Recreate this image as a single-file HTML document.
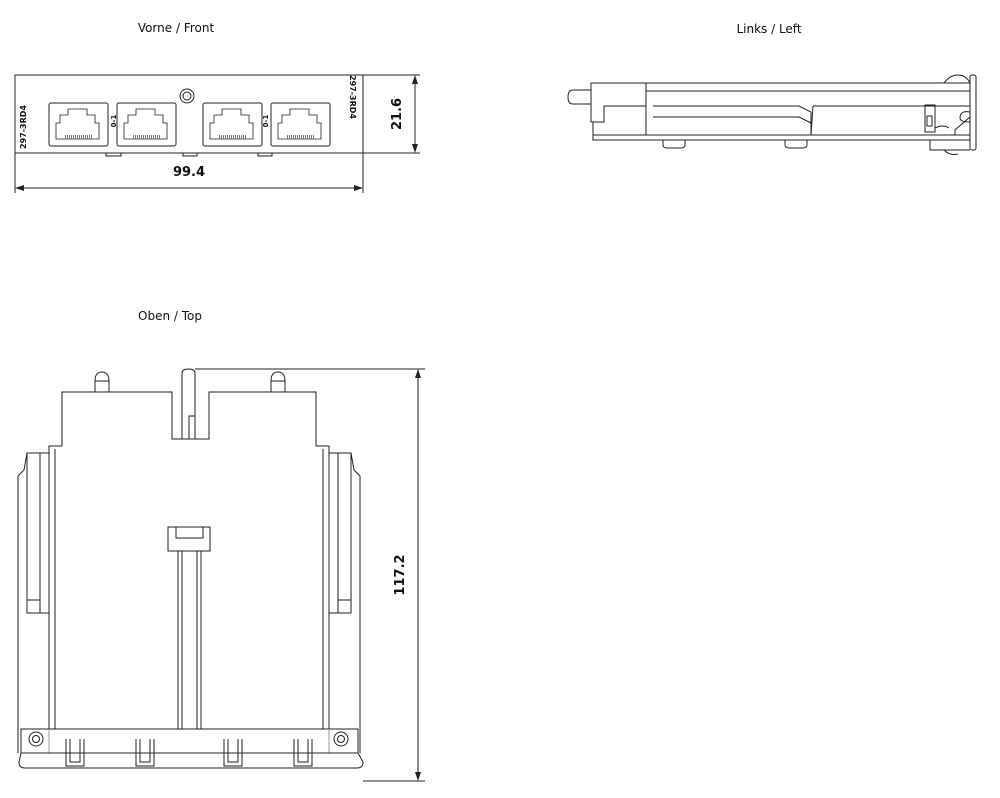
<!DOCTYPE html>
<html><head><meta charset="utf-8"><style>
html,body{margin:0;padding:0;background:#fff;}
svg{display:block;}
text{font-family:"DejaVu Sans","Liberation Sans",sans-serif;fill:#111;}
</style></head><body>
<svg width="1000" height="798" viewBox="0 0 1000 798" xmlns="http://www.w3.org/2000/svg">
<g font-size="12" text-anchor="middle">
<text x="176" y="32">Vorne / Front</text>
<text x="769" y="33">Links / Left</text>
<text x="170" y="320">Oben / Top</text>
</g>

<!-- FRONT VIEW -->
<g fill="none" stroke="#222" stroke-width="1">
<rect x="15" y="75" width="348" height="78"/>
<g fill="#fff">
<rect x="49" y="103" width="59" height="43" rx="2"/>
<rect x="117" y="103" width="59" height="43" rx="2"/>
<rect x="203" y="103" width="59" height="43" rx="2"/>
<rect x="271" y="103" width="59" height="43" rx="2"/>
</g>
<g stroke-width="0.8">
<path d="M56 139 V123 h4 v-8 h8 v-6 h19 v6 h8 v8 h4 v16 Z"/>
<path d="M124 139 V123 h4 v-8 h8 v-6 h19 v6 h8 v8 h4 v16 Z"/>
<path d="M210 139 V123 h4 v-8 h8 v-6 h19 v6 h8 v8 h4 v16 Z"/>
<path d="M278 139 V123 h4 v-8 h8 v-6 h19 v6 h8 v8 h4 v16 Z"/>
</g>
<g stroke="#777" stroke-width="4" stroke-dasharray="1 1">
<line x1="65" y1="137" x2="92" y2="137"/>
<line x1="133" y1="137" x2="160" y2="137"/>
<line x1="219" y1="137" x2="246" y2="137"/>
<line x1="287" y1="137" x2="314" y2="137"/>
</g>
<circle cx="187" cy="96" r="7"/>
<circle cx="187" cy="96" r="4"/>
<rect x="106" y="153" width="15" height="3"/>
<rect x="183" y="153" width="14" height="3"/>
<rect x="258" y="153" width="14" height="3"/>
<!-- dims -->
<line x1="15" y1="153" x2="15" y2="193"/>
<line x1="363" y1="153" x2="363" y2="193"/>
<line x1="17" y1="188" x2="361" y2="188"/>
<line x1="363" y1="75" x2="420" y2="75"/>
<line x1="363" y1="153" x2="420" y2="153"/>
<line x1="415" y1="77" x2="415" y2="151"/>
</g>
<g fill="#222">
<path d="M15 188 l9 -3 v6 Z"/><path d="M363 188 l-9 -3 v6 Z"/>
<path d="M415 75 l-3 9 h6 Z"/><path d="M415 153 l-3 -9 h6 Z"/>
</g>
<text x="189" y="176" font-size="13" font-weight="bold" text-anchor="middle">99.4</text>
<text transform="translate(401,114) rotate(-90)" font-size="13" font-weight="bold" text-anchor="middle">21.6</text>
<text transform="translate(26,127) rotate(-90)" font-size="8" font-weight="bold" text-anchor="middle">297-3RD4</text>
<text transform="translate(350,97) rotate(90)" font-size="8" font-weight="bold" text-anchor="middle">297-3RD4</text>
<text transform="translate(116,121) rotate(-90)" font-size="7" font-weight="bold" text-anchor="middle">0-1</text>
<text transform="translate(268,121) rotate(-90)" font-size="7" font-weight="bold" text-anchor="middle">0-1</text>

<!-- LEFT VIEW -->
<g fill="none" stroke="#222" stroke-width="1">
<path d="M591 90 h-18 q-5 0 -5 7 q0 7 5 7 h18"/>
<path d="M591 83 H970 V140 H593 V122 H591 Z"/>
<line x1="593" y1="135" x2="970" y2="135"/>
<path d="M591 83 V122 h13 V106 h42 V83"/>
<line x1="646" y1="91" x2="970" y2="91"/>
<path d="M646 106 V135"/>
<path d="M653 106 H799 l12 6 V135"/>
<path d="M653 117 H799 l12 6"/>
<path d="M813 106 H970"/>
<path d="M813 106 L811 135"/>
<path d="M663 140 v5 q0 3 4 3 h14 q4 0 4 -3 v-5"/>
<path d="M785 140 v5 q0 3 4 3 h14 q4 0 4 -3 v-5"/>
<rect x="970" y="75" width="6" height="75" rx="2"/>
<path d="M944 83 q6 -8 14 -8 q8 0 12 8"/>
<path d="M930 140 v10 h40"/>
<path d="M944 150 q6 6 14 4"/>
<path d="M925 105 h10 v27 h-10 Z"/>
<rect x="927" y="116" width="5" height="10"/>
<path d="M935 105 V128 q8 -4 14 0"/>
<path d="M970 112 q-10 -2 -10 6 q0 4 10 4"/>
<path d="M970 117 L955 130 V135"/>
</g>

<!-- TOP VIEW -->
<g fill="none" stroke="#222" stroke-width="1">
<!-- pins -->
<path d="M95 392 V381 q0 -9 7 -9 q7 0 7 9 V392"/>
<line x1="95" y1="381" x2="109" y2="381"/>
<path d="M271 392 V381 q0 -9 7 -9 q7 0 7 9 V392"/>
<line x1="271" y1="381" x2="285" y2="381"/>
<path d="M182 439 V373 q0 -4 6.5 -4 q6.5 0 6.5 4 V439"/>
<path d="M189 439 V416 h6"/>
<!-- body -->
<path d="M62 446 V392 H172 V439 H209 V392 H316 V446"/>
<path d="M49 729 V446 H62 M316 446 H329 V729"/>
<line x1="55" y1="449" x2="55" y2="729"/>
<line x1="323" y1="449" x2="323" y2="729"/>
<!-- side rails -->
<path d="M49 453 H27 L24 470 L18 476 V753"/>
<path d="M27 453 V613 H40 V453"/>
<path d="M27 600 H40"/>
<path d="M40 613 H49"/>
<path d="M329 453 H351 L354 470 L360 476 V753"/>
<path d="M351 453 V613 H338 V453"/>
<path d="M338 600 H351"/>
<path d="M338 613 H329"/>
<!-- bottom plate -->
<path d="M21 753 V729 H49 M329 729 H358 V753"/>
<line x1="49" y1="729" x2="329" y2="729"/>
<path d="M49 729 V753 M329 729 V753" stroke="#999"/>
<line x1="21" y1="753" x2="358" y2="753"/>
<path d="M21 753 L19 762 q0 6 6 6 H357 q6 0 6 -6 L358 753"/>
<circle cx="36" cy="739" r="7"/><circle cx="36" cy="739" r="3.5"/>
<circle cx="341" cy="739" r="7"/><circle cx="341" cy="739" r="3.5"/>
<!-- U tabs -->
<path d="M66 739 V766 H84 V739 M70 739 V762 H80 V739"/>
<path d="M136 739 V766 H154 V739 M140 739 V762 H150 V739"/>
<path d="M224 739 V766 H242 V739 M228 739 V762 H238 V739"/>
<path d="M294 739 V766 H312 V739 M298 739 V762 H308 V739"/>
<!-- center slot -->
<rect x="168" y="527" width="42" height="24"/>
<rect x="176" y="527" width="27" height="11"/>
<path d="M178 551 V729 M201 551 V729 M182 551 V729 M197 551 V729"/>
<!-- dims -->
<line x1="195" y1="369" x2="425" y2="369"/>
<line x1="363" y1="781" x2="425" y2="781"/>
<line x1="418" y1="371" x2="418" y2="779"/>
</g>
<g fill="#222">
<path d="M418 369 l-3 9 h6 Z"/><path d="M418 781 l-3 -9 h6 Z"/>
</g>
<text transform="translate(404,575) rotate(-90)" font-size="13" font-weight="bold" text-anchor="middle">117.2</text>
</svg>
</body></html>
